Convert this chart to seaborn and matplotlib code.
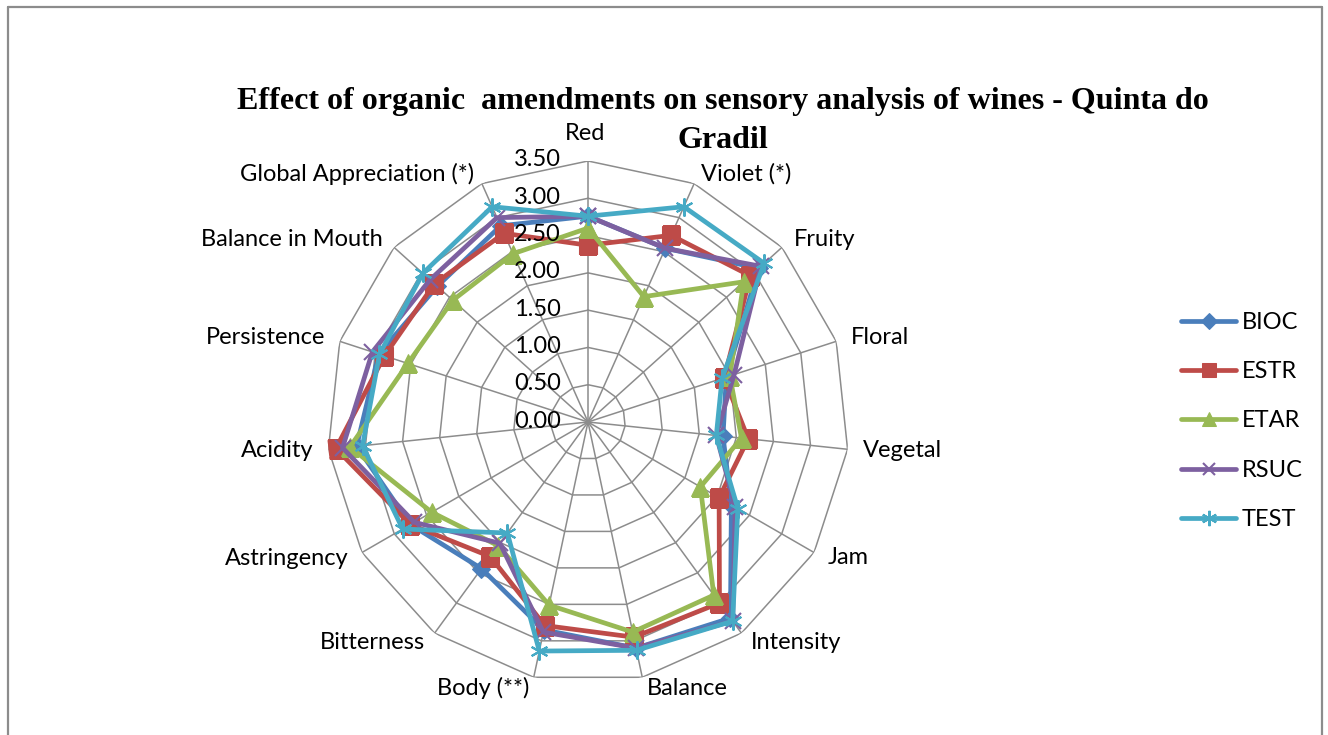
import numpy as np
import pandas as pd
import matplotlib
matplotlib.use("Agg")
import matplotlib.pyplot as plt
from matplotlib.lines import Line2D
import seaborn as sns

categories = ["Red", "Violet (*)", "Fruity", "Floral", "Vegetal", "Jam", "Intensity",
              "Balance", "Body (**)", "Bitterness", "Astringency", "Acidity",
              "Persistence", "Balance in Mouth", "Global Appreciation (*)"]
BIOC = [2.76, 2.55, 3.08, 1.95, 1.82, 2.22, 3.25, 3.10, 2.85, 2.43, 2.75, 3.12, 2.95, 2.72, 2.88]
ESTR = [2.37, 2.74, 2.93, 1.92, 2.16, 2.03, 3.00, 2.95, 2.79, 2.23, 2.75, 3.40, 2.87, 2.77, 2.77]
ETAR = [2.60, 1.84, 2.81, 2.00, 2.07, 1.74, 2.87, 2.88, 2.51, 2.05, 2.42, 3.21, 2.54, 2.44, 2.47]
RSUC = [2.76, 2.55, 3.12, 2.06, 1.73, 2.28, 3.30, 3.10, 2.88, 2.01, 2.69, 3.31, 3.04, 2.85, 3.00]
TEST = [2.76, 3.16, 3.18, 1.89, 1.73, 2.32, 3.30, 3.13, 3.14, 1.84, 2.87, 3.04, 2.94, 2.98, 3.16]
series_names = ["BIOC", "ESTR", "ETAR", "RSUC", "TEST"]
series_values = [BIOC, ESTR, ETAR, RSUC, TEST]
ring_ticks = [0.0, 0.5, 1.0, 1.5, 2.0, 2.5, 3.0, 3.5]
title_line1 = "Effect of organic  amendments on sensory analysis of wines - Quinta do"
title_line2 = "Gradil"

colors = {"BIOC": "#4A7EBB", "ESTR": "#BE4B48", "ETAR": "#98B954",
          "RSUC": "#7D60A0", "TEST": "#46AAC5"}
markers = {"BIOC": "D", "ESTR": "s", "ETAR": "^", "RSUC": "x", "TEST": (6, 2, 0)}
msizes = {"BIOC": 9, "ESTR": 12.5, "ETAR": 12.5, "RSUC": 11, "TEST": 13}

sns.set_style("white")
plt.rcParams["font.family"] = ["Lato", "DejaVu Sans"]
plt.rcParams["text.color"] = "black"

W, H = 1328, 735
fig = plt.figure(figsize=(W / 100, H / 100), dpi=100)
fig.patch.set_facecolor("white")

cx, cy, R = 588, 422, 261
ax = fig.add_axes([(cx - R) / W, (H - cy - R) / H, 2 * R / W, 2 * R / H], projection="polar")
ax.set_theta_offset(np.pi / 2)
ax.set_theta_direction(-1)
ax.set_ylim(0, 3.5)
ax.grid(False)
ax.spines["polar"].set_visible(False)
ax.set_xticks([])
ax.set_yticks([])
ax.patch.set_alpha(0)

n = len(categories)
theta = np.linspace(0, 2 * np.pi, n, endpoint=False)
theta_c = np.append(theta, 2 * np.pi)

gc = "#8C8C8C"
for r in ring_ticks[1:]:
    ax.plot(theta_c, [r] * (n + 1), color=gc, lw=1.1, zorder=1)
for t in theta:
    ax.plot([t, t], [0, 3.5], color=gc, lw=1.1, zorder=1)

for name, vals in zip(series_names, series_values):
    df = pd.DataFrame({"theta": theta_c, "value": list(vals) + [vals[0]]})
    sns.lineplot(data=df, x="theta", y="value", ax=ax, sort=False, color=colors[name],
                 lw=3.4, marker=markers[name], markersize=msizes[name],
                 markeredgecolor=colors[name],
                 markeredgewidth=1.5 if name in ("RSUC", "TEST") else 0.75,
                 label=name, zorder=3, legend=False)

# axis labels
for t, lab in zip(theta, categories):
    a = np.pi / 2 - t
    c, s = np.cos(a), np.sin(a)
    if abs(c) < 0.05:
        ha, off = "center", (-3, 28)
    else:
        ha = "left" if c > 0 else "right"
        off = (13 * c + (2 if c > 0 else -2), 11 * s)
    ax.annotate(lab, xy=(t, 3.5), xytext=off, textcoords="offset pixels",
                ha=ha, va="center", fontsize=17, color="black", annotation_clip=False)

for r in ring_ticks:
    ax.annotate(f"{r:.2f}", xy=(0, r), xytext=(-27, 1), textcoords="offset pixels",
                ha="right", va="center", fontsize=17, color="black", annotation_clip=False)

tfont = dict(ha="center", va="center", fontsize=23, fontweight="bold", color="black",
             family=["Liberation Serif", "DejaVu Serif"])
fig.text(723 / W, 1 - 102 / H, title_line1, **tfont)
fig.text(723 / W, 1 - 141 / H, title_line2, **tfont)

handles = [Line2D([], [], color=colors[nm], lw=3.4, marker=markers[nm],
                  markersize=msizes[nm] * 0.85, markeredgecolor=colors[nm],
                  markeredgewidth=1.5 if nm in ("RSUC", "TEST") else 0.75)
           for nm in series_names]
fig.legend(handles, series_names, loc="center left", bbox_to_anchor=(1172 / W, 1 - 421 / H),
           frameon=False, fontsize=17, handlelength=2.3, handletextpad=0.25,
           labelspacing=1.2, borderaxespad=0)

bc = "#8C8C8C"
for xs, ys in [((8 / W, 8 / W), (0, 1 - 7 / H)),
               ((8 / W, 1322 / W), (1 - 7 / H, 1 - 7 / H)),
               ((1322 / W, 1322 / W), (0, 1 - 7 / H))]:
    fig.add_artist(Line2D(xs, ys, transform=fig.transFigure, color=bc, lw=1.6))

fig.savefig("out.png", dpi=100, facecolor="white")
